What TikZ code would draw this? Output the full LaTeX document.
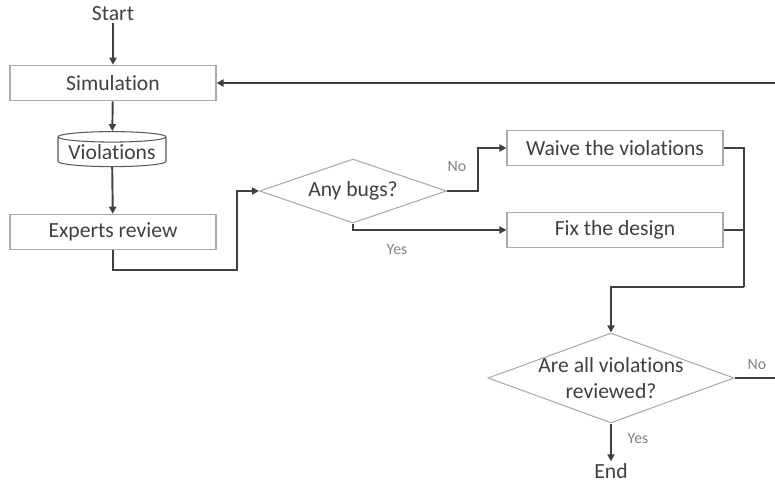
\documentclass[tikz,border=0pt]{standalone}
\usepackage{fontspec}
\setmainfont{Carlito}[Ligatures=NoCommon]
\usetikzlibrary{calc,positioning,arrows.meta,shapes.geometric}
\definecolor{flowgray}{RGB}{64,64,64}
\definecolor{boxgray}{RGB}{170,170,170}
\definecolor{cylgray}{RGB}{90,90,90}
\definecolor{lblgray}{RGB}{130,130,130}
\newcommand{\flowfont}{\fontsize{12.3}{15}\selectfont}
\newcommand{\lblfont}{\fontsize{9}{11}\selectfont}
\tikzset{
  procbox/.style={draw=boxgray,line width=0.6pt,minimum width=4.12cm,minimum height=0.71cm,
    inner sep=0pt,text=flowgray,font=\flowfont},
  decision/.style={diamond,draw=boxgray,line width=0.6pt,inner sep=0pt,aspect=2.7,
    text=flowgray,font=\flowfont,align=center},
  storebox/.style={cylinder,shape border rotate=90,aspect=0.12,draw=cylgray,line width=0.6pt,
    minimum width=2.16cm,minimum height=0.7cm,inner sep=0pt,text=flowgray,font=\flowfont},
  endtext/.style={text=flowgray,font=\flowfont,inner sep=1pt},
  flowline/.style={draw=flowgray,line width=1.1pt,-{Triangle[length=4pt,width=4pt]}},
  flowjoin/.style={draw=flowgray,line width=1.1pt},
  lbl/.style={text=lblgray,font=\lblfont,inner sep=0pt},
}

\begin{document}
\begin{tikzpicture}[x=0.02cm,y=-0.02cm]
        \useasboundingbox (0,0) rectangle (775,484);
        \clip (0,0) rectangle (775,484);
        % main column
        \node[endtext] (start) at (113,14) {Start};
        \node[procbox] (sim) at (113,83) {Simulation};
        \node[storebox] (viol) at (112,152) {Violations};
        \node[procbox] (review) at (113,232) {Experts review};
        % first decision
        \node[decision,minimum width=3.74cm,minimum height=1.28cm] (bugs) at (353,191) {Any bugs?};
        \node[procbox,minimum width=4.32cm] (waive) at (615,148) {Waive the violations};
        \node[procbox,minimum width=4.32cm] (fix) at (615,230) {Fix the design};
        % second decision
        \node[decision,aspect=2.6,inner ysep=-5pt,minimum width=4.92cm,minimum height=1.8cm]
          (allrev) at (611,378) {Are all violations\\reviewed?};
        \node[endtext] (finish) at (611,471) {End};
        \coordinate (merge) at (744,287);
        \coordinate (loopback) at (780,378);
        % connectors
        \draw[flowline] (start) -- (sim);
        \draw[flowline] (sim) -- (viol);
        \draw[flowline] (viol) -- (review);
        \draw[flowline] (review.south) -- ++(0,20) -| ($(bugs.west)+(-22,0)$) -- (bugs.west);
        \draw[flowline] (bugs.east) -- ++(31,0) |- (waive.west);
        \draw[flowline] (bugs.south) |- (fix.west);
        \draw[flowjoin] (waive.east) -| (merge);
        \draw[flowjoin] (fix.east) -| (merge);
        \draw[flowline] (merge) -| (allrev.north);
        \draw[flowline] (allrev.south) -- (finish);
        \draw[flowline] (allrev.east) -- (loopback) |- (sim.east);
        % labels
        \node[lbl] at (457,166) {No};
        \node[lbl] at (397,249) {Yes};
        \node[lbl] at (757,364) {No};
        \node[lbl] at (638,438) {Yes};
\end{tikzpicture}
\end{document}
